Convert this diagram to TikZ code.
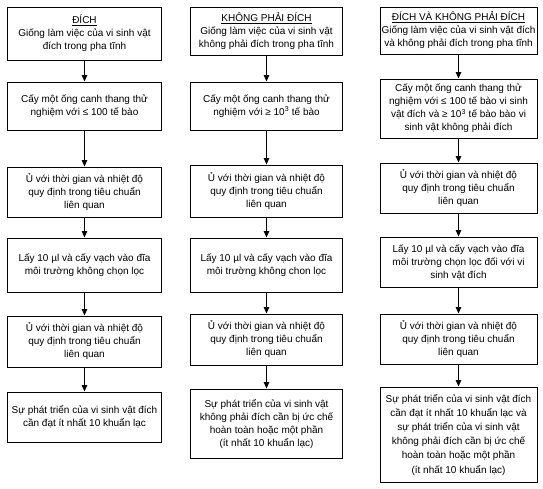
\documentclass[tikz,border=0pt]{standalone}
\usepackage{fontspec}
\setmainfont{Liberation Sans}
\usetikzlibrary{arrows.meta}
\tikzset{
  box/.style={draw, line width=1pt, align=center, inner sep=0pt,
    font=\fontsize{10}{13}\selectfont},
  cA/.style={box, minimum width=154pt},
  cB/.style={box, minimum width=152pt},
  cC/.style={box, minimum width=157pt},
  arr/.style={-{Triangle[length=6.5pt,width=5.5pt]}, line width=1pt}
}
\newcommand{\uinc}{Ủ với thời gian và nhiệt độ\\quy định trong tiêu chuẩn\\liên quan}
\begin{document}
\begin{tikzpicture}[x=1pt,y=-1pt]
\useasboundingbox (0,0) rectangle (543,488);
% column 1
\node[cA, minimum height=53pt] (a1) at (84.5,33.5) {\underline{ĐÍCH}\\Giống làm việc của vi sinh vật\\đích trong pha tĩnh};
\node[cA, minimum height=48pt] (a2) at (84.5,106) {Cấy một ống canh thang thử\\nghiệm với ≤ 100 tế bào};
\node[cA, minimum height=50pt] (a3) at (84.5,192) {\uinc};
\node[cA, minimum height=54pt] (a4) at (84.5,265) {Lấy 10 µl và cấy vạch vào đĩa\\môi trường không chọn lọc};
\node[cA, minimum height=51pt] (a5) at (84.5,341.5) {\uinc};
\node[cA, minimum height=50pt] (a6) at (84.5,417) {Sự phát triển của vi sinh vật đích\\cần đạt ít nhất 10 khuẩn lạc};
% column 2
\node[cB, minimum height=48pt] (b1) at (266.5,31) {\underline{KHÔNG PHẢI ĐÍCH}\\Giống làm việc của vi sinh vật\\không phải đích trong pha tĩnh};
\node[cB, minimum height=48pt] (b2) at (266.5,106) {Cấy một ống canh thang thử\\nghiệm với ≥ 10\textsuperscript{3} tế bào};
\node[cB, minimum height=52pt] (b3) at (266.5,191) {\uinc};
\node[cB, minimum height=54pt] (b4) at (266.5,265) {Lấy 10 µl và cấy vạch vào đĩa\\môi trường không chon lọc};
\node[cB, minimum height=51pt] (b5) at (266.5,339.5) {\uinc};
\node[cB, minimum height=69pt] (b6) at (266.5,423.5) {Sự phát triển của vi sinh vật\\không phải đích cần bị ức chế\\hoàn toàn hoặc một phần\\(ít nhất 10 khuẩn lạc)};
% column 3
\node[cC, minimum height=47pt] (c1) at (458.5,30.5) {\underline{ĐÍCH VÀ KHÔNG PHẢI ĐÍCH}\\Giống làm việc của vi sinh vật đích\\và không phải đích trong pha tĩnh};
\node[cC, minimum height=59pt] (c2) at (458.5,108.5) {Cấy một ống canh thang thử\\nghiệm với ≤ 100 tế bào vi sinh\\vật đích và ≥ 10\textsuperscript{3} tế bào bào vi\\sinh vật không phải đích};
\node[cC, minimum height=50pt] (c3) at (458.5,188) {\uinc};
\node[cC, minimum height=50pt] (c4) at (458.5,262) {Lấy 10 µl và cấy vạch vào đĩa\\môi trường chọn lọc đối với vi\\sinh vật đích};
\node[cC, minimum height=50pt] (c5) at (458.5,339) {\uinc};
\node[cC, minimum height=95pt, font=\fontsize{10}{14.2}\selectfont] (c6) at (458.5,434.5) {Sự phát triển của vi sinh vật đích\\cần đạt ít nhất 10 khuẩn lạc và\\sự phát triển của vi sinh vật\\không phải đích cần bị ức chế\\hoàn toàn hoặc một phần\\(ít nhất 10 khuẩn lạc)};
% arrows
\foreach \p in {a,b,c}{
  \draw[arr] (\p1) -- (\p2);
  \draw[arr] (\p2) -- (\p3);
  \draw[arr] (\p3) -- (\p4);
  \draw[arr] (\p4) -- (\p5);
  \draw[arr] (\p5) -- (\p6);
}
\end{tikzpicture}
\end{document}
